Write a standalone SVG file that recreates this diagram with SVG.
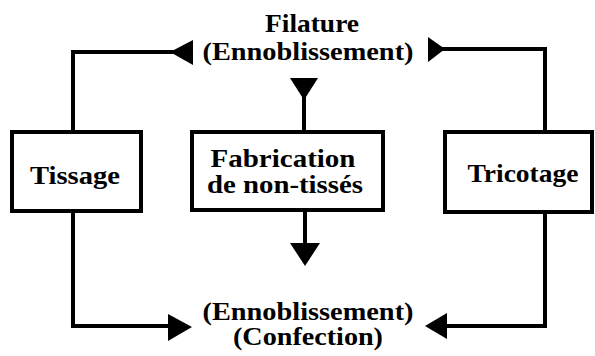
<svg xmlns="http://www.w3.org/2000/svg" width="595" height="356" viewBox="0 0 595 356">
<style>
.box{fill:#fff;stroke:#000;stroke-width:4;stroke-linejoin:miter}
.ln{fill:none;stroke:#000;stroke-width:4;stroke-linejoin:miter}
.ah{fill:#000;stroke:none}
text{font-family:"Liberation Serif","Times New Roman",serif;font-weight:bold;font-size:26px;fill:#000;text-anchor:middle}
</style>
<rect width="595" height="356" fill="#fff"/>
<g id="connectors">
<path class="ln" d="M73,132 V52 H176"/>
<polygon class="ah" points="170,52 193,40 193,65"/>
<path class="ln" d="M545,132 V49 H432"/>
<polygon class="ah" points="445,49 428,37 428,62"/>
<path class="ln" d="M304,132 V96"/>
<polygon class="ah" points="290,78 318,78 304,100"/>
<path class="ln" d="M305,211 V248"/>
<polygon class="ah" points="290,243 320,243 305,266"/>
<path class="ln" d="M73,211 V326 H172"/>
<polygon class="ah" points="192,327 168,314 168,341"/>
<path class="ln" d="M545,212 V326 H443"/>
<polygon class="ah" points="425,326 447,313 447,339"/>
</g>
<g id="filature">
<text x="312" y="32" textLength="94" lengthAdjust="spacingAndGlyphs">Filature</text>
<text x="308" y="60" textLength="211" lengthAdjust="spacingAndGlyphs">(Ennoblissement)</text>
</g>
<g id="tissage">
<rect class="box" x="12" y="132" width="129" height="79"/>
<text x="75" y="184" font-size="29" textLength="90" lengthAdjust="spacingAndGlyphs">Tissage</text>
</g>
<g id="fabrication">
<rect class="box" x="192" y="132" width="191" height="78"/>
<text x="283" y="167" font-size="27" textLength="145" lengthAdjust="spacingAndGlyphs">Fabrication</text>
<text x="285" y="193" font-size="27" textLength="156" lengthAdjust="spacingAndGlyphs">de non-tissés</text>
</g>
<g id="tricotage">
<rect class="box" x="445" y="132" width="147" height="80"/>
<text x="523" y="182" font-size="29" textLength="111" lengthAdjust="spacingAndGlyphs">Tricotage</text>
</g>
<g id="ennoblissement-confection">
<text x="308" y="320" textLength="211" lengthAdjust="spacingAndGlyphs">(Ennoblissement)</text>
<text x="308" y="345" textLength="150" lengthAdjust="spacingAndGlyphs">(Confection)</text>
</g>
</svg>
